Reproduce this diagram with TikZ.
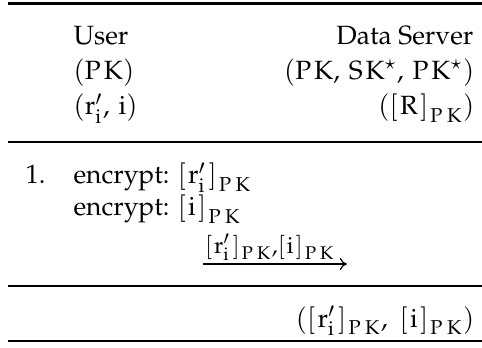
\documentclass[tikz,border=0pt]{standalone}
\usepackage[T1]{fontenc}
\IfFileExists{mathpazo.sty}{\usepackage{mathpazo}}{\IfFileExists{tgpagella.sty}{\usepackage{tgpagella}}{}}
\usetikzlibrary{arrows.meta}
\newcommand{\mv}[1]{\mathrm{#1}}
\newcommand{\pk}{\mv{P\mkern2mu K}}
\newcommand{\spk}{\mkern2mu\mv{P\mkern4mu K}}
\newcommand{\Lbk}{\mathopen{[}\mkern1.5mu}
\newcommand{\Rbk}{\mkern1.5mu\mathclose{]}}
\begin{document}
\begin{tikzpicture}[x=0.33333pt,y=-0.33333pt,
  txt/.style={inner sep=0pt,font=\fontsize{8.8}{11}\selectfont},
  labtxt/.style={inner sep=0pt,font=\fontsize{10.2}{12}\selectfont},
  heavyrule/.style={line width=0.8pt},
  lightrule/.style={line width=0.5pt},
  msg/.style={line width=0.4pt,-{To[length=2.4pt,width=4pt]}}]
\useasboundingbox (0,0) rectangle (482,347);
% rules
\coordinate (t1) at (8,3.5);   \coordinate (t2) at (482,3.5);
\coordinate (m1) at (8,142); \coordinate (m2) at (482,142);
\coordinate (n1) at (8,286); \coordinate (n2) at (482,286);
\coordinate (b1) at (8,341); \coordinate (b2) at (482,341);
\draw[heavyrule] (t1) -- (t2);
\draw[lightrule] (m1) -- (m2);
\draw[lightrule] (n1) -- (n2);
\draw[heavyrule] (b1) -- (b2);
% header
\node[txt,anchor=base west] (user) at (73,45) {User};
\node[txt,anchor=base east] (server) at (474,45) {Data Server};
\node[txt,anchor=base west] (ukey) at (73,80) {$(\pk)$};
\node[txt,anchor=base east] (skey) at (475,80) {$(\pk,\, \mv{S\mkern2mu K}^\star,\, \pk^\star)$};
\node[txt,anchor=base west] (uin) at (73,115) {$(\mv{r}_{\mv{i}}',\, \mv{i})$};
\node[txt,anchor=base east] (sin) at (475,115) {$(\Lbk\mv{R}\Rbk_{\spk})$};
% step 1
\node[txt,anchor=base west] (num) at (25,184) {1.};
\node[txt,anchor=base west] (enc1) at (73,184) {encrypt: $\Lbk\mv{r}_{\mv{i}}'\Rbk_{\spk}$};
\node[txt,anchor=base west] (enc2) at (73,216) {encrypt: $\Lbk\mv{i}\Rbk_{\spk}$};
\coordinate (a1) at (203,264);
\coordinate (a2) at (347,264);
\draw[msg] (a1) -- (a2);
\node[labtxt,anchor=base] (lab) at (270,253) {$\scriptstyle \Lbk\mv{r}_{\mv{i}}'\Rbk_{\spk},\Lbk\mv{i}\Rbk_{\spk}$};
% result
\node[txt,anchor=base east] (res) at (475,327) {$(\Lbk\mv{r}_{\mv{i}}'\Rbk_{\spk},\; \Lbk\mv{i}\Rbk_{\spk})$};
\end{tikzpicture}
\end{document}
